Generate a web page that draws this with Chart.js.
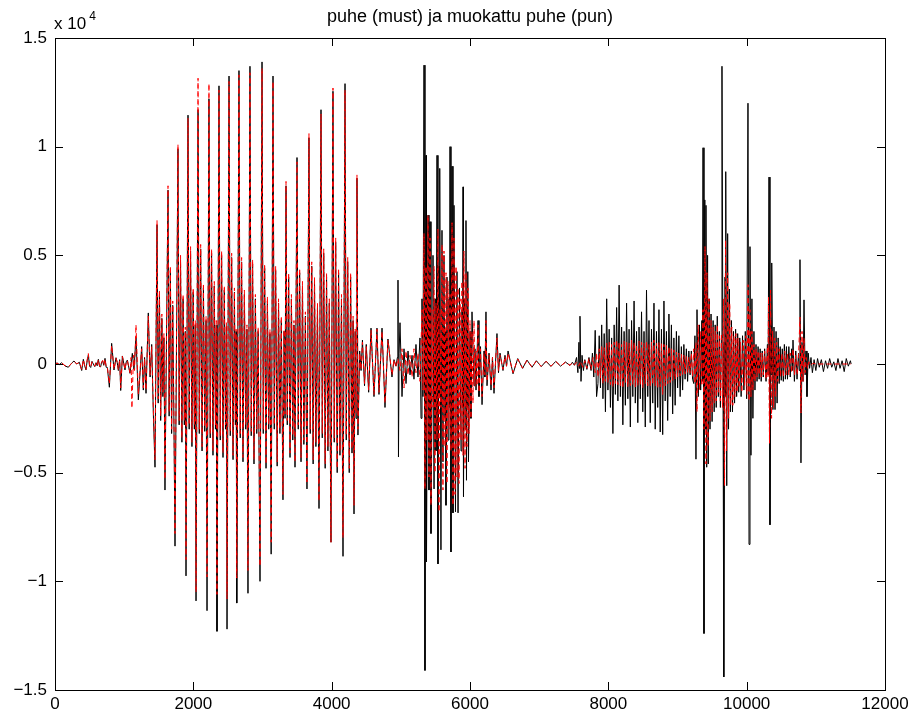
<!DOCTYPE html>
<html>
<head>
<meta charset="utf-8">
<script src="https://cdn.jsdelivr.net/npm/chart.js@4.4.1/dist/chart.umd.min.js"></script>
<style>
  html, body { margin: 0; padding: 0; background: #fff; }
  canvas { display: block; }
</style>
</head>
<body>
<canvas id="wave" width="916" height="723"></canvas>
<script>
// axis ticks and labels
const xTicks = [0, 2000, 4000, 6000, 8000, 10000, 12000];
const yTicks = [-15000, -10000, -5000, 0, 5000, 10000, 15000];
const yTickLabels = ['\u22121.5', '\u22121', '\u22120.5', '0', '0.5', '1', '1.5'];
const titleText = 'puhe (must) ja muokattu puhe (pun)';
const expText = 'x 10';
const expPower = '4';

// ── black: original speech (puhe), [sample, value] ─────────────────
const blackOnset = [
  [0,0],[30,50],[60,-30],[97,60],[145,-90],[193,-150],[241,40],[275,140],[313,0],[352,80],
  [386,-300],[410,215],[430,-100],[448,-270],[465,150],[482,410],[500,-100],[516,-160],[535,120],
  [554,0],[575,-120],[593,60],[610,-80],[627,215],[645,-120],[660,-130],[675,100],[689,140],
  [705,-60],[723,260],[740,-150],[757,-160],[786,-1070],[819,950],[853,-275],[882,290],[900,60],
  [916,-300],[935,200],[950,-1220],[974,370],[1012,-275],[1030,100],[1046,180],[1084,-430],
  [1118,490],[1142,-250],[1171,1250],[1205,-1650],[1230,-400],[1253,800],[1277,-1200],[1295,300],
  [1316,-1350],[1349,2350],[1375,-600],[1398,900],[1422,-2300]
];
const blackVowel = [
  [1446,-4750],[1475,6400],[1492,-1800],[1510,3200],[1528,-2600],[1545,2100],[1560,-1500],[1575,1200],
  [1590,-5800],[1634,8000],[1650,-2400],[1668,4300],[1686,-3200],[1702,2700],[1718,-2200],
  [1735,-8380],[1778,9900],[1795,-2800],[1815,4800],[1835,-3600],[1852,3000],[1870,-2800],[1884,1500],
  [1894,-9750],[1923,11450],[1940,-3000],[1960,5200],[1980,-3800],[1998,3300],[2015,-3000],[2028,1800],
  [2039,-10900],[2068,11700],[2086,-3200],[2106,5300],[2126,-4000],[2146,3500],[2165,-3100],[2184,2000],
  [2198,-11350],[2226,12200],[2244,-3400],[2264,5100],[2284,-4200],[2303,3600],[2320,-3000],[2332,1800],
  [2342,-12300],[2371,12800],[2389,-3500],[2409,5000],[2429,-4300],[2448,3400],[2465,-3000],[2478,1700],
  [2487,-12200],[2516,13250],[2534,-3300],[2554,4900],[2574,-4400],[2594,3300],[2608,-2800],[2618,1500],
  [2628,-11000],[2660,13500],[2678,-3400],[2698,4700],[2718,-4500],[2738,3200],[2758,-3000],[2775,1600],
  [2790,-10550],[2819,13700],[2837,-3300],[2857,4600],[2877,-4600],[2897,3000],[2917,-3200],[2937,1500],
  [2964,-10000],[2993,13900],[3011,-3200],[3031,4400],[3051,-4800],[3071,2900],[3090,-3000],[3108,1400],
  [3125,-8750],[3152,13250],[3170,-3000],[3190,4300],[3212,-4700],[3232,2800],[3252,-3200],[3272,2000],
  [3296,-6250],[3312,1500],[3326,-2500],[3340,8200],[3358,-2800],[3378,4000],[3398,-4300],[3418,3000],
  [3438,-3500],[3455,1800],[3470,-4750],[3499,9500],[3517,-3000],[3537,4200],[3557,-4500],[3578,3600],
  [3598,-3700],[3620,2200],[3643,-5750],[3672,10400],[3690,-3200],[3712,4500],[3732,-4600],[3752,3800],
  [3772,-3800],[3795,2600],[3817,-6650],[3846,11700],[3864,-3400],[3885,5100],[3906,-4800],[3926,4000],
  [3946,-4000],[3966,2800],[3990,-8200],[4019,12550],[4037,-3600],[4058,5600],[4080,-5000],[4100,4200],
  [4120,-4200],[4142,3000],[4164,-8850],[4193,12900],[4211,-3500],[4232,4700],[4254,-5000],[4274,4000],
  [4294,-4100],[4310,2000],[4323,-6900],[4340,1500],[4352,-2500],[4366,8550],[4380,-3270]
];
const blackGap = [
  [4405,600],[4425,-300],[4445,1100],[4475,-1000],[4500,900],[4535,-1300],[4569,1650],[4612,-1500],
  [4655,1650],[4684,-1400],[4728,1650],[4771,-2000],[4814,1150],[4872,-600],[4901,200],[4930,-100],
  [4950,300],[4959,3860],[4966,-4280],[4975,500],[4988,1900],[5017,-1500],[5046,700],[5075,-900],
  [5104,600],[5133,-500],[5162,400],[5190,-700],[5219,900],[5248,-600],[5277,1200],[5292,-2500],
  [5306,3000],[5320,-1500]
];
const blackBurst = [
  [5335,13750],[5349,-14100],[5364,9600],[5371,-9100],[5393,6850],[5407,-5800],[5422,6550],[5436,-7800],
  [5451,-1500],[5465,5000],[5480,-5750],[5494,3000],[5508,-4000],[5523,9600],[5537,-9200],[5552,4500],
  [5559,-1500],[5566,9000],[5580,-8550],[5595,6150],[5609,-4500],[5624,5000],[5638,-2500],[5645,1500],
  [5653,-6500],[5667,4000],[5682,-3500],[5696,3000],[5703,-2000],[5711,10000],[5725,-8650],[5740,9100],
  [5754,-6850],[5769,7300],[5790,-6800],[5812,4250],[5827,-6850],[5848,3500],[5870,-4000],[5884,2500],
  [5892,-2000],[5899,8150],[5906,-6100],[5920,3000],[5930,-3000],[5942,6600],[5949,-5350],[5960,2500],
  [5965,-2000],[5971,4250],[5978,-4500],[6000,1500],[6014,-2500],[6029,2400],[6058,-1000],[6072,700],
  [6087,-1200],[6116,2000],[6130,-1500],[6152,800],[6174,-1870],[6203,600],[6215,-600],[6231,2400],
  [6246,-1000],[6275,500],[6304,-1200],[6325,300],[6347,-1350],[6390,1400],[6412,-400],[6434,500],
  [6477,-300],[6506,400],[6528,-100],[6550,600],[6622,-450],[6690,250],[6760,-200],[6824,180],
  [6897,-150],[6960,150],[7030,-120],[7100,130],[7170,-110],[7240,120],[7310,-100],[7380,90],[7446,-70]
];
const blackFric = [
  [7480,80],[7510,-60],[7540,300],[7560,-400],[7575,1000],[7582,-200],[7590,2200],[7605,-800],
  [7620,400],[7640,-300],[7660,200],[7690,-250],[7720,300],[7750,-300],[7770,500],[7790,-600],
  [7810,1550],[7830,-1500],[7850,-900],[7868,1300],[7886,-1100],[7904,1800],[7922,-1600],[7940,1400],
  [7958,-2200],[7976,3000],[7994,-1200],[8012,1600],[8030,-2000],[8048,1200],[8066,-3200],[8084,1800],
  [8102,-1400],[8120,2600],[8138,-1700],[8156,3630],[8174,-1500],[8192,1700],[8210,-2800],[8228,1500],
  [8246,-1900],[8264,2800],[8282,-1600],[8300,1600],[8318,-2900],[8336,2000],[8354,-1500],[8372,2900],
  [8390,-1800],[8408,1500],[8426,-2700],[8444,1700],[8462,-1600],[8480,2400],[8498,-2200],[8516,1500],
  [8534,-2900],[8552,3400],[8570,-1500],[8588,2000],[8606,-2700],[8624,1600],[8642,-1800],[8660,2800],
  [8678,-3000],[8696,1500],[8714,-2000],[8732,2500],[8750,-3130],[8768,1600],[8786,-3250],[8804,2900],
  [8822,-1700],[8840,1500],[8858,-2600],[8876,2300],[8894,-1500],[8912,1800],[8930,-2300],[8948,1200],
  [8966,-1900],[8984,1500],[9002,-1100],[9020,1300],[9038,-1500],[9056,800],[9074,-1200],[9092,900],
  [9110,-700],[9128,700],[9146,-800],[9164,600]
];
const blackClicks = [
  [9182,-500],[9200,600],[9218,-700],[9235,-900],[9252,1300],[9267,-4380],[9282,2500],[9300,-1500],
  [9318,1800],[9335,-1200],[9352,2000],[9360,-800],[9369,9950],[9383,-12400],[9395,7550],[9405,-3000],
  [9412,7300],[9422,-4750],[9435,5000],[9445,-4600],[9458,3000],[9470,-3000],[9485,2300],[9500,-2650],
  [9515,2000],[9530,-2200],[9545,1800],[9560,-2000],[9575,2200],[9590,-1500],[9605,1500],[9620,-2000],
  [9635,1200],[9643,13700],[9660,-3000],[9667,1000],[9672,-14400],[9687,4000],[9694,-1500],[9701,8850],
  [9712,-5600],[9725,6000],[9738,-3000],[9750,3450],[9765,-2200],[9780,2000],[9795,-2200],[9810,1500],
  [9825,-1800],[9840,1600],[9855,-1500],[9870,1400],[9885,-1300],[9900,1200],[9920,-1500],[9940,1300],
  [9960,-1200],[9980,1500],[10000,-1600],[10019,12000],[10034,-8300],[10048,5400],[10062,-4200],
  [10076,3000],[10090,-2500],[10105,1500],[10120,-1200],[10135,900],[10150,-800],[10165,800],[10180,-700],
  [10195,700],[10210,-800],[10225,600],[10240,-600],[10260,700],[10280,-800],[10300,900],[10310,-500],
  [10323,8600],[10337,-7400],[10352,2000],[10359,-500],[10366,4650],[10380,-2100],[10395,1700],
  [10410,-2100],[10425,1500],[10440,-1800],[10455,1200],[10470,-900],[10485,800],[10500,-750],
  [10515,700],[10530,-800],[10545,900],[10560,-700],[10575,800],[10590,-700],[10610,800],[10630,-600],
  [10650,700],[10660,-300],[10670,1100],[10690,-800],[10710,600],[10728,-700],[10750,500],[10760,-300],
  [10771,4800],[10785,-4550],[10800,1000],[10815,-800],[10829,2950],[10845,-500],[10858,600],[10872,-1500],
  [10890,500],[10910,-200],[10930,300],[10950,-400],[10975,200],[11000,-300],[11025,250],[11050,-150],
  [11080,200],[11110,-350],[11140,150],[11170,-200],[11200,250],[11230,-150],[11260,100],[11290,-300],
  [11320,250],[11350,-200],[11380,150],[11410,-350],[11440,250],[11470,-100],[11500,150],[11510,0]
];

// ── red: modified speech (muokattu puhe), [sample, value] ──────────
const redOnset = [
  [0,0],[30,40],[60,-20],[97,50],[145,-80],[193,-120],[241,30],[275,120],[313,10],[352,60],
  [386,-250],[410,200],[430,-80],[448,-250],[465,180],[482,480],[500,-80],[516,-140],[535,100],
  [554,20],[575,-100],[593,50],[610,-60],[627,200],[645,-100],[660,-110],[675,80],[689,160],
  [705,-40],[723,230],[740,-130],[757,-140],[786,-900],[819,850],[853,-250],[882,260],[900,80],
  [916,-250],[935,180],[950,-1100],[974,350],[1012,-250],[1030,80],[1046,160],[1084,-400],
  [1100,300],[1112,-2030],[1135,400],[1150,-300],[1171,1800],[1205,-1400],[1230,-300],[1253,700],
  [1277,-1100],[1295,250],[1316,-1200],[1349,2200],[1375,-500],[1398,800],[1422,-2100]
];
const redVowel = [
  [1446,-4400],[1475,6600],[1492,-1600],[1510,3400],[1528,-2400],[1545,2300],[1560,-1300],[1575,1400],
  [1590,-5300],[1634,8200],[1650,-2200],[1668,4500],[1686,-3000],[1702,2900],[1718,-2000],
  [1735,-7800],[1778,10100],[1795,-2600],[1815,5000],[1835,-3400],[1852,3200],[1870,-2600],[1884,1700],
  [1894,-9000],[1923,11300],[1940,-2800],[1960,5400],[1980,-3600],[1998,3500],[2015,-2800],[2028,2000],
  [2039,-10500],[2068,13150],[2086,-3000],[2106,5500],[2126,-3800],[2146,3700],[2165,-2900],[2184,2200],
  [2198,-9800],[2226,12900],[2244,-3200],[2264,5300],[2284,-4000],[2303,3800],[2320,-2800],[2332,2000],
  [2342,-10600],[2371,12600],[2389,-3300],[2409,5200],[2429,-4100],[2448,3600],[2465,-2800],[2478,1900],
  [2487,-10800],[2516,13000],[2534,-3100],[2554,5100],[2574,-4200],[2594,3500],[2608,-2600],[2618,1600],
  [2628,-9850],[2660,13300],[2678,-3200],[2698,4900],[2718,-4300],[2738,3400],[2758,-2800],[2775,1800],
  [2790,-9500],[2819,13400],[2837,-3100],[2857,4800],[2877,-4400],[2897,3200],[2917,-3000],[2937,1700],
  [2964,-9300],[2993,13600],[3011,-3000],[3031,4600],[3051,-4600],[3071,3100],[3090,-2800],[3108,1600],
  [3125,-8200],[3152,13000],[3170,-2800],[3190,4500],[3212,-4500],[3232,3000],[3252,-3000],[3272,2200],
  [3296,-6000],[3312,1600],[3326,-2300],[3340,8400],[3358,-2600],[3378,4200],[3398,-4100],[3418,3200],
  [3438,-3300],[3455,2000],[3470,-4500],[3499,9300],[3517,-2800],[3537,4400],[3557,-4300],[3578,3800],
  [3598,-3500],[3620,2400],[3643,-5500],[3672,10600],[3690,-3000],[3712,4700],[3732,-4400],[3752,4000],
  [3772,-3600],[3795,2800],[3817,-6300],[3846,11500],[3864,-3200],[3885,5300],[3906,-4600],[3926,4200],
  [3946,-3800],[3966,3000],[3990,-8200],[4019,12700],[4037,-3400],[4058,5800],[4080,-4800],[4100,4400],
  [4120,-4000],[4142,3200],[4164,-8000],[4193,12600],[4211,-3300],[4232,4900],[4254,-4800],[4274,4200],
  [4294,-3900],[4310,2200],[4323,-6500],[4340,1600],[4352,-2300],[4366,8700],[4380,-3000]
];
const redGap = [
  [4405,500],[4425,-250],[4445,1000],[4475,-900],[4500,800],[4535,-1200],[4569,1550],[4612,-1400],
  [4655,1600],[4684,-1300],[4728,1500],[4771,-1800],[4814,1100],[4872,-500],[4901,200],[4930,-150],
  [4959,250],[4988,-300],[5017,700],[5046,-1100],[5075,600],[5104,-500],[5133,400],[5162,-600],
  [5190,700],[5219,-400],[5248,500],[5277,-800],[5306,2500],[5320,-1200]
];
const redBurst = [
  [5335,6000],[5349,-5750],[5364,4500],[5378,-3500],[5393,6850],[5407,-5200],[5422,5800],[5436,-6500],
  [5451,2500],[5465,-2000],[5480,4500],[5494,-5000],[5508,2800],[5523,-3500],[5537,6200],[5552,-6800],
  [5566,2500],[5580,-2000],[5595,5500],[5609,-5800],[5624,5200],[5638,-3800],[5653,4200],[5667,-5500],
  [5682,3800],[5696,-3000],[5711,3200],[5725,-4000],[5740,6500],[5754,-6500],[5769,5800],[5783,-6000],
  [5798,4500],[5812,-5200],[5827,3500],[5841,-5500],[5856,3000],[5870,-3500],[5884,3800],[5899,-4200],
  [5913,5200],[5928,-4800],[5942,4200],[5957,-3800],[5971,3500],[5986,-3200],[6000,2000],[6014,-2500],
  [6029,1500],[6043,-1800],[6058,2000],[6072,-1000],[6087,600],[6102,-1000],[6116,1800],[6130,-1300],
  [6152,700],[6174,-1500],[6203,500],[6215,-500],[6231,2000],[6246,-800],[6275,400],[6304,-1000],
  [6325,300],[6347,-1100],[6390,1200],[6412,-300],[6434,400],[6477,-250],[6506,350],[6528,-100],
  [6550,500],[6622,-400],[6690,230],[6760,-190],[6824,170],[6897,-140],[6960,140],[7030,-110],
  [7100,120],[7170,-100],[7240,110],[7310,-90],[7380,80],[7446,-60]
];
const redFric = [
  [7480,60],[7510,-50],[7540,80],[7570,-100],[7600,120],[7630,-150],[7660,150],[7690,-200],[7720,250],
  [7750,-250],[7780,300],[7810,-400],[7830,500],[7850,-600],[7868,700],[7886,-650],[7904,800],
  [7922,-900],[7940,750],[7958,-800],[7976,950],[7994,-850],[8012,1000],[8030,-950],[8048,900],
  [8066,-1050],[8084,1000],[8102,-900],[8120,1100],[8138,-950],[8156,1000],[8174,-1000],[8192,900],
  [8210,-1100],[8228,1050],[8246,-900],[8264,1000],[8282,-1050],[8300,950],[8318,-1000],[8336,1100],
  [8354,-950],[8372,1000],[8390,-1050],[8408,900],[8426,-1000],[8444,1050],[8462,-950],[8480,1000],
  [8498,-1100],[8516,950],[8534,-900],[8552,1050],[8570,-1000],[8588,900],[8606,-1050],[8624,1000],
  [8642,-950],[8660,1100],[8678,-1000],[8696,950],[8714,-1100],[8732,1000],[8750,-1050],[8768,950],
  [8786,-1400],[8804,900],[8822,-1000],[8840,850],[8858,-900],[8876,800],[8894,-850],[8912,700],
  [8930,-750],[8948,650],[8966,-700],[8984,550],[9002,-600],[9020,500],[9038,-550],[9056,450],
  [9074,-500],[9092,400],[9110,-450],[9128,350],[9146,-400],[9164,300]
];
const redClicks = [
  [9182,-400],[9200,500],[9218,-600],[9235,700],[9252,-900],[9267,1000],[9282,-2200],[9300,1800],
  [9318,-1200],[9335,1500],[9352,-1000],[9369,2500],[9383,-3000],[9398,5400],[9412,-4600],[9425,4200],
  [9440,-3800],[9455,3000],[9470,-2600],[9485,2000],[9500,-2200],[9515,1700],[9530,-1800],[9545,1500],
  [9560,-1700],[9575,1800],[9590,-1300],[9605,1300],[9620,-1700],[9635,1400],[9650,-2000],[9665,3000],
  [9680,-5600],[9695,5700],[9710,-4000],[9725,4200],[9740,-2500],[9755,2800],[9770,-1900],[9785,1700],
  [9800,-1900],[9815,1300],[9830,-1500],[9845,1400],[9860,-1300],[9875,1200],[9890,-1100],[9910,1000],
  [9930,-1300],[9950,1100],[9970,-1000],[9990,1300],[10005,-1400],[10020,3650],[10035,-1700],
  [10048,2500],[10062,-1500],[10076,1500],[10090,-1200],[10105,900],[10120,-800],[10135,700],
  [10150,-600],[10165,600],[10180,-500],[10195,500],[10210,-600],[10225,500],[10240,-500],[10260,600],
  [10280,-700],[10300,800],[10308,-600],[10316,3100],[10330,-3650],[10345,3400],[10360,-2500],
  [10375,1500],[10390,-2000],[10405,1200],[10420,-1500],[10435,1000],[10450,-800],[10470,700],
  [10490,-600],[10510,500],[10530,-600],[10550,600],[10570,-500],[10590,500],[10610,-500],[10630,500],
  [10650,-400],[10670,700],[10690,-500],[10710,400],[10730,-500],[10750,400],[10771,2150],[10785,-2250],
  [10800,1500],[10815,-800],[10829,1200],[10845,-400],[10860,300],[10880,-200],[10900,100],[10930,-60],
  [10960,40],[11000,0],[11510,0]
];

(function () {
  'use strict';

  const FONT = "'Liberation Sans', Arial, Helvetica, sans-serif";
  const box = { left: 55, right: 885, top: 38, bottom: 690 };
  const toXY = parts => parts.flat().map(([x, y]) => ({ x, y }));

  const black = toXY([blackOnset, blackVowel, blackGap, blackBurst, blackFric, blackClicks]);
  const red = toXY([redOnset, redVowel, redGap, redBurst, redFric, redClicks]);

  // box, inward ticks, title and exponent label, matlab style
  const matlabFrame = {
    id: 'matlabFrame',
    afterDraw(chart) {
      const { ctx, scales: { x, y } } = chart;
      const a = chart.chartArea;
      const tl = 8;
      ctx.save();
      ctx.strokeStyle = '#000';
      ctx.lineWidth = 1;
      ctx.strokeRect(Math.round(a.left) + 0.5, Math.round(a.top) + 0.5,
                     Math.round(a.right - a.left), Math.round(a.bottom - a.top));
      ctx.beginPath();
      xTicks.forEach(v => {
        const px = Math.round(x.getPixelForValue(v)) + 0.5;
        ctx.moveTo(px, a.bottom); ctx.lineTo(px, a.bottom - tl);
        ctx.moveTo(px, a.top); ctx.lineTo(px, a.top + tl);
      });
      yTicks.forEach(v => {
        const py = Math.round(y.getPixelForValue(v)) + 0.5;
        ctx.moveTo(a.left, py); ctx.lineTo(a.left + tl, py);
        ctx.moveTo(a.right, py); ctx.lineTo(a.right - tl, py);
      });
      ctx.stroke();

      ctx.fillStyle = '#000';
      ctx.textBaseline = 'alphabetic';
      ctx.textAlign = 'center';
      ctx.font = '18px ' + FONT;
      ctx.fillText(titleText, (a.left + a.right) / 2, 22);
      ctx.textAlign = 'left';
      ctx.font = '17px ' + FONT;
      ctx.fillText(expText, a.left - 1, 29);
      const w = ctx.measureText(expText).width;
      ctx.font = '12px ' + FONT;
      ctx.fillText(expPower, a.left - 1 + w + 3, 20);
      ctx.restore();
    }
  };

  new Chart(document.getElementById('wave'), {
    type: 'line',
    data: {
      datasets: [
        {
          label: 'muokattu puhe (pun)',
          data: red,
          borderColor: '#ff0000',
          borderWidth: 1,
          borderDash: [5, 3],
          pointRadius: 0,
          tension: 0,
          order: 0
        },
        {
          label: 'puhe (must)',
          data: black,
          borderColor: '#000000',
          borderWidth: 1,
          pointRadius: 0,
          tension: 0,
          order: 1
        }
      ]
    },
    options: {
      responsive: false,
      animation: false,
      events: [],
      layout: { padding: { top: box.top, right: 916 - box.right, left: 0, bottom: 0 } },
      plugins: { legend: { display: false }, tooltip: { enabled: false }, title: { display: false } },
      scales: {
        x: {
          type: 'linear',
          min: 0, max: 12000,
          afterBuildTicks: s => { s.ticks = xTicks.map(v => ({ value: v })); },
          afterFit: s => { s.height = 723 - box.bottom; },
          grid: { display: false, drawTicks: false },
          border: { display: false },
          ticks: {
            color: '#000', font: { family: FONT, size: 17 }, padding: 4, maxRotation: 0, autoSkip: false,
            callback: v => String(v)
          }
        },
        y: {
          type: 'linear',
          min: -15000, max: 15000,
          afterBuildTicks: s => { s.ticks = yTicks.map(v => ({ value: v })); },
          afterFit: s => { s.width = box.left; },
          grid: { display: false, drawTicks: false },
          border: { display: false },
          ticks: {
            color: '#000', font: { family: FONT, size: 17 }, padding: 8,
            callback: v => yTickLabels[yTicks.indexOf(v)]
          }
        }
      }
    },
    plugins: [matlabFrame]
  });
}());
</script>
</body>
</html>
